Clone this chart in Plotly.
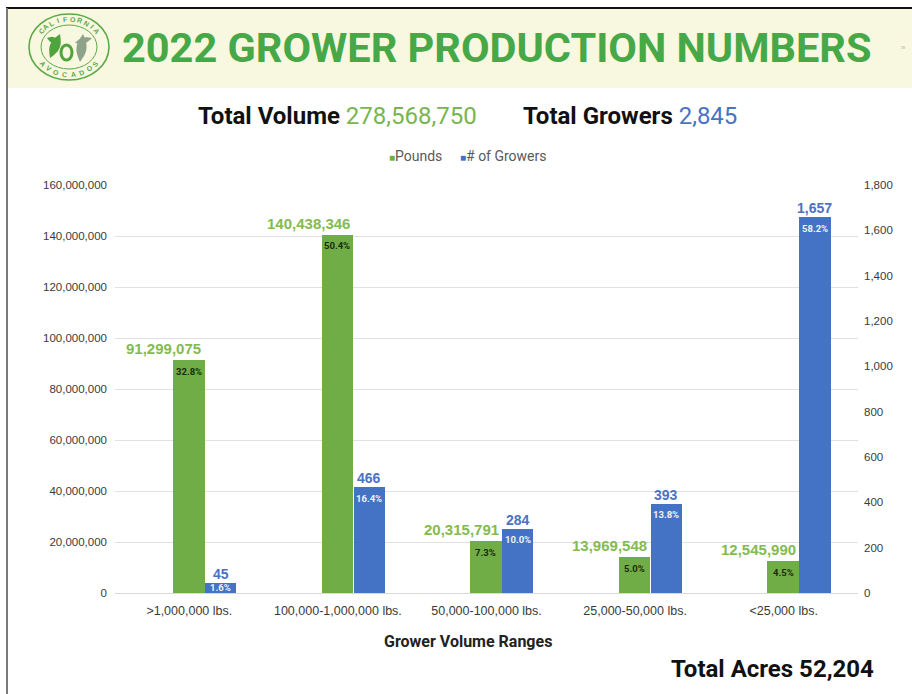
import math
import plotly.graph_objects as go

# ---- data ----
categories = [">1,000,000 lbs.", "100,000-1,000,000 lbs.", "50,000-100,000 lbs.",
              "25,000-50,000 lbs.", "<25,000 lbs."]
pounds = [91299075, 140438346, 20315791, 13969548, 12545990]
growers = [45, 466, 284, 393, 1657]
total_acres = 52204

pound_ticks = [0, 20000000, 40000000, 60000000, 80000000, 100000000,
               120000000, 140000000, 160000000]
grower_ticks = [0, 200, 400, 600, 800, 1000, 1200, 1400, 1600, 1800]

total_volume = sum(pounds)
total_growers = sum(growers)

# ---- page geometry (pixels) ----
W, H = 912, 694
L, R, T, B = 115, 858, 185, 593
CAT_W = (R - L) / len(categories)


def px(x):
    return (x - L) / (R - L)


def py(y):
    return (B - y) / (B - T)


NARROW = "Roboto, Liberation Sans, Arial, sans-serif"
SANS = "Liberation Sans, Arial, sans-serif"

GREEN_BAR = "#70ad47"
BLUE_BAR = "#4472c4"
GREEN_TXT = "#84bb4f"
BLUE_TXT = "#4a72c4"
TITLE_GREEN = "#46a846"

G_OFF, G_WID = -0.11, 0.213
B_OFF, B_WID = 0.105, 0.21

fig = go.Figure()
fig.add_trace(go.Bar(x=categories, y=pounds, name="Pounds", marker_color=GREEN_BAR,
                     marker_line_width=0, offset=G_OFF, width=G_WID, yaxis="y",
                     showlegend=False, hoverinfo="x+y"))
fig.add_trace(go.Bar(x=categories, y=growers, name="# of Growers", marker_color=BLUE_BAR,
                     marker_line_width=0, offset=B_OFF, width=B_WID, yaxis="y2",
                     showlegend=False, hoverinfo="x+y"))

annotations = []
shapes = []

# value labels and share-of-total labels on the bars
g_center = (G_OFF + G_WID / 2) * CAT_W
b_center = (B_OFF + B_WID / 2) * CAT_W
for cat, lb, gr in zip(categories, pounds, growers):
    annotations.append(dict(x=cat, y=lb, xref="x", yref="y", text=f"<b>{lb:,}</b>",
                            showarrow=False, xanchor="right", yanchor="bottom",
                            xshift=14, yshift=1,
                            font=dict(family=SANS, size=15, color=GREEN_TXT)))
    annotations.append(dict(x=cat, y=gr, xref="x", yref="y2", text=f"<b>{gr:,}</b>",
                            showarrow=False, xanchor="center", yanchor="bottom",
                            xshift=b_center, yshift=-1,
                            font=dict(family=SANS, size=14, color=BLUE_TXT)))
    g_h = lb / pound_ticks[-1] * (B - T)
    annotations.append(dict(x=cat, y=lb, xref="x", yref="y",
                            text=f"<b>{lb / total_volume * 100:.1f}%</b>",
                            showarrow=False, xanchor="center", yanchor="middle",
                            xshift=g_center, yshift=-min(11, g_h / 2),
                            font=dict(family=NARROW, size=9.5, color="#1b2a0c")))
    b_h = gr / grower_ticks[-1] * (B - T)
    annotations.append(dict(x=cat, y=gr, xref="x", yref="y2",
                            text=f"<b>{gr / total_growers * 100:.1f}%</b>",
                            showarrow=False, xanchor="center", yanchor="middle",
                            xshift=b_center, yshift=-min(11, b_h / 2),
                            font=dict(family=NARROW, size=9.5, color="#eef2fb")))

# header band and frame lines
shapes.append(dict(type="rect", xref="paper", yref="paper", x0=px(8), x1=px(W),
                   y0=py(88), y1=py(9), fillcolor="#f8f7df", line_width=0, layer="below"))
shapes.append(dict(type="line", xref="paper", yref="paper", x0=px(6), x1=px(W),
                   y0=py(8), y1=py(8), line=dict(color="#111111", width=2)))
shapes.append(dict(type="line", xref="paper", yref="paper", x0=px(7), x1=px(7),
                   y0=py(8), y1=py(H), line=dict(color="#7a7a7a", width=2)))

# emblem: double ellipse, lettering on the rim and leaf glyph
CX, CY, RX, RY = 69, 47, 40, 33
for rx, ry, w in [(RX, RY, 1.6), (RX - 12, RY - 11, 1.0)]:
    shapes.append(dict(type="circle", xref="paper", yref="paper",
                       x0=px(CX - rx), x1=px(CX + rx), y0=py(CY + ry), y1=py(CY - ry),
                       line=dict(color="#5ca84a", width=w), fillcolor="rgba(0,0,0,0)"))


def arc_text(word, a0, a1, top):
    n = len(word)
    for i, ch in enumerate(word):
        th = math.radians(a0 + (a1 - a0) * i / (n - 1))
        x = CX + (RX - 6) * math.cos(th)
        y = CY - (RY - 5.5) * math.sin(th)
        deg = math.degrees(th)
        ang = (90 - deg) if top else (270 - deg)
        annotations.append(dict(x=px(x), y=py(y), xref="paper", yref="paper", text=f"<b>{ch}</b>",
                                showarrow=False, textangle=ang, xanchor="center", yanchor="middle",
                                font=dict(family=SANS, size=7, color="#5ca84a")))


arc_text("CALIFORNIA", 145, 35, True)
arc_text("AVOCADOS", 218, 322, False)


def path(points):
    s = "M " + " ".join(f"{'L ' if i else ''}{px(x):.5f},{py(y):.5f}" for i, (x, y) in enumerate(points))
    return s + " Z"


def leaf(x0, y0, x1, y1, bulge):
    dx, dy = x1 - x0, y1 - y0
    ln = math.hypot(dx, dy)
    nx, ny = -dy / ln, dx / ln
    pts = []
    for k in range(13):
        t = k / 12
        b = bulge * math.sin(math.pi * t)
        pts.append((x0 + dx * t + nx * b, y0 + dy * t + ny * b))
    for k in range(12, -1, -1):
        t = k / 12
        b = bulge * math.sin(math.pi * t)
        pts.append((x0 + dx * t - nx * b, y0 + dy * t - ny * b))
    return path(pts)


# green leaf pair on the left, open seed ring, grey-green leaves on the right
shapes.append(dict(type="path", xref="paper", yref="paper", path=leaf(50, 58, 60, 34, 5),
                   fillcolor="#4fa43e", line_width=0))
shapes.append(dict(type="path", xref="paper", yref="paper", path=leaf(47, 38, 59, 42, 3),
                   fillcolor="#4fa43e", line_width=0))
shapes.append(dict(type="circle", xref="paper", yref="paper",
                   x0=px(61), x1=px(72), y0=py(60), y1=py(45),
                   line=dict(color="#4fa43e", width=3), fillcolor="rgba(0,0,0,0)"))
shapes.append(dict(type="path", xref="paper", yref="paper", path=leaf(80, 62, 83, 34, 5),
                   fillcolor="#8fa38a", line_width=0))
shapes.append(dict(type="path", xref="paper", yref="paper", path=leaf(75, 43, 92, 38, 3),
                   fillcolor="#8fa38a", line_width=0))

# headings
annotations.append(dict(x=px(497), y=py(47), xref="paper", yref="paper",
                        text="<b>2022 GROWER PRODUCTION NUMBERS</b>", showarrow=False,
                        xanchor="center", yanchor="middle",
                        font=dict(family=NARROW, size=41.5, color=TITLE_GREEN)))
annotations.append(dict(x=px(903), y=py(47), xref="paper", yref="paper", text="»",
                        showarrow=False, xanchor="center", yanchor="middle",
                        font=dict(family=SANS, size=8, color="#b8b8a8")))
annotations.append(dict(x=px(196), y=py(116), xref="paper", yref="paper",
                        text=f"<b>Total Volume</b> <span style='color:#79b54f'>{total_volume:,}</span>",
                        showarrow=False, xanchor="left", yanchor="middle",
                        font=dict(family=NARROW, size=24, color="#111111")))
annotations.append(dict(x=px(521), y=py(116), xref="paper", yref="paper",
                        text=f"<b>Total Growers</b> <span style='color:{BLUE_TXT}'>{total_growers:,}</span>",
                        showarrow=False, xanchor="left", yanchor="middle",
                        font=dict(family=NARROW, size=24, color="#111111")))
annotations.append(dict(x=px(387), y=py(156), xref="paper", yref="paper",
                        text=f"<span style='color:{GREEN_BAR};font-size:10px'>■</span>Pounds",
                        showarrow=False, xanchor="left", yanchor="middle",
                        font=dict(family=NARROW, size=14, color="#595959")))
annotations.append(dict(x=px(458), y=py(156), xref="paper", yref="paper",
                        text=f"<span style='color:{BLUE_BAR};font-size:10px'>■</span># of Growers",
                        showarrow=False, xanchor="left", yanchor="middle",
                        font=dict(family=NARROW, size=14, color="#595959")))
annotations.append(dict(x=px(468), y=py(641), xref="paper", yref="paper",
                        text="<b>Grower Volume Ranges</b>", showarrow=False,
                        xanchor="center", yanchor="middle",
                        font=dict(family=NARROW, size=16, color="#222222")))
annotations.append(dict(x=px(876), y=py(669), xref="paper", yref="paper",
                        text=f"<b>Total Acres {total_acres:,}</b>", showarrow=False,
                        xanchor="right", yanchor="middle",
                        font=dict(family=NARROW, size=24, color="#111111")))

fig.update_layout(
    width=W, height=H,
    margin=dict(l=L, r=W - R, t=T, b=H - B, pad=0),
    paper_bgcolor="#ffffff", plot_bgcolor="#ffffff",
    bargap=0, barmode="overlay",
    xaxis=dict(type="category", categoryorder="array", categoryarray=categories,
               range=[-0.5, len(categories) - 0.5],
               showgrid=False, zeroline=False, showline=True, linecolor="#d9d9d9", linewidth=1,
               ticks="", ticklabelstandoff=6,
               tickfont=dict(family=SANS, size=12.5, color="#3a3a3a")),
    yaxis=dict(range=[0, pound_ticks[-1]], tickmode="array", tickvals=pound_ticks,
               ticktext=[f"{v:,}" for v in pound_ticks],
               showgrid=True, gridcolor="#e1e1e1", gridwidth=1, zeroline=False, showline=False,
               ticks="", ticklabelstandoff=7,
               tickfont=dict(family=SANS, size=11.5, color="#3a3a3a")),
    yaxis2=dict(range=[0, grower_ticks[-1]], overlaying="y", side="right", tickmode="array",
                tickvals=grower_ticks, ticktext=[f"{v:,}" for v in grower_ticks],
                showgrid=False, zeroline=False, showline=False, ticks="", ticklabelstandoff=5,
                tickfont=dict(family=SANS, size=11.5, color="#3a3a3a")),
    annotations=annotations,
    shapes=shapes,
    showlegend=False,
)

fig.write_html("out.html")
